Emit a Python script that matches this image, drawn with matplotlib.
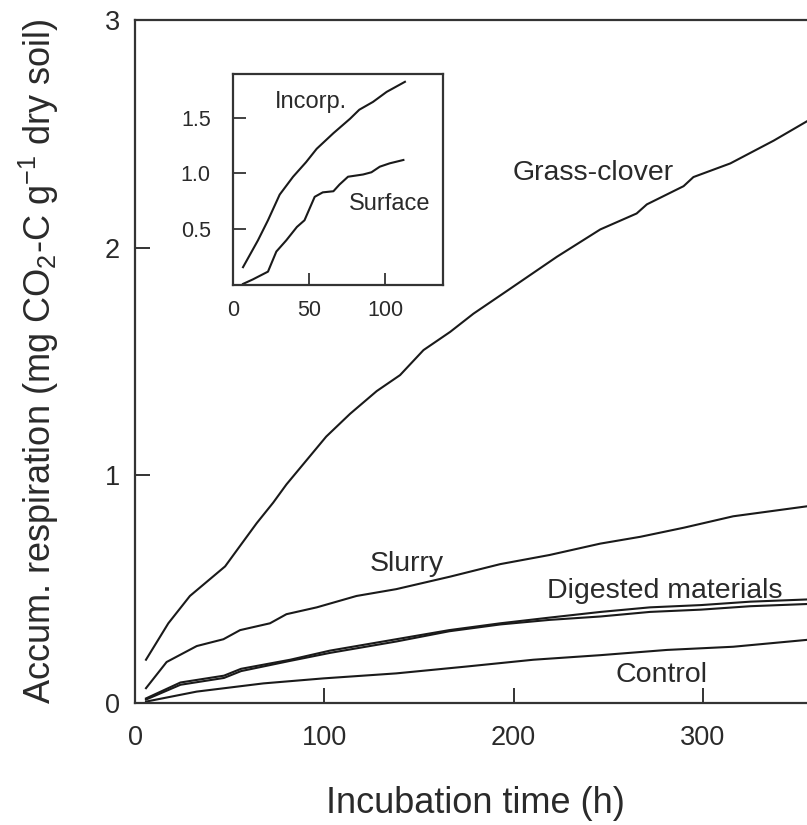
import matplotlib
matplotlib.use("Agg")
import matplotlib.pyplot as plt

plt.rcParams['font.family'] = ['Liberation Sans', 'DejaVu Sans']
plt.rcParams['mathtext.default'] = 'regular'

# --- main panel data ---
grass_t = [5.8, 17.6, 29, 47.6, 55.5, 64.3, 73, 80, 89, 101, 113.6, 127.7, 140,
           152.4, 166.5, 178.8, 196.5, 222.9, 245.8, 265, 270.4, 289.8, 295,
           314.5, 337.4, 356]
grass_v = [0.19, 0.35, 0.47, 0.60, 0.69, 0.79, 0.88, 0.96, 1.05, 1.17, 1.27, 1.37,
           1.44, 1.55, 1.63, 1.71, 1.81, 1.96, 2.08, 2.15, 2.19, 2.27, 2.31, 2.37,
           2.47, 2.56]

slurry_t = [5.8, 16.7, 32.6, 46.7, 55.5, 71.3, 80, 96, 117, 138, 166.5, 193, 219,
            245.8, 267, 290, 316, 356]
slurry_v = [0.065, 0.18, 0.25, 0.28, 0.32, 0.35, 0.39, 0.42, 0.47, 0.50, 0.555,
            0.61, 0.65, 0.70, 0.73, 0.77, 0.82, 0.865]

digest_t = [5.8, 24, 47, 56, 82, 103, 138, 166, 193, 219, 246, 272, 299, 325, 356]
digest_a = [0.02, 0.09, 0.12, 0.15, 0.19, 0.23, 0.28, 0.32, 0.35, 0.375, 0.40,
            0.42, 0.43, 0.445, 0.455]
digest_b = [0.015, 0.08, 0.11, 0.14, 0.185, 0.22, 0.27, 0.315, 0.345, 0.365,
            0.38, 0.40, 0.41, 0.425, 0.435]

control_t = [5.8, 32.6, 67.8, 99.5, 138, 175, 210.5, 245.8, 281, 316, 356]
control_v = [0.006, 0.05, 0.086, 0.108, 0.13, 0.16, 0.19, 0.21, 0.233, 0.247, 0.278]

# --- inset data ---
incorp_t = [6.6, 16.4, 23, 30.7, 39.5, 48, 55, 66, 77, 83, 92, 101, 113]
incorp_v = [0.16, 0.40, 0.58, 0.81, 0.97, 1.10, 1.22, 1.36, 1.49, 1.57, 1.64,
            1.73, 1.82]
surface_t = [6.6, 13, 23, 28.5, 35, 42, 47, 53.7, 59, 66, 70, 75.6, 85.5, 91,
             96.5, 103, 112]
surface_v = [0.01, 0.05, 0.12, 0.30, 0.40, 0.52, 0.58, 0.79, 0.83, 0.84, 0.90,
             0.97, 0.99, 1.01, 1.06, 1.09, 1.12]

main_xticks = [0, 100, 200, 300]
main_yticks = [0, 1, 2, 3]
inset_xticks = [0, 50, 100]
inset_yticks = [0.5, 1.0, 1.5]

ink = '#1a1a1a'
txt = '#2a2a2a'
lw = 1.5

fig = plt.figure(figsize=(8.07, 8.25), dpi=100)
ax = fig.add_axes([0.1673, 0.1479, 0.8327, 0.8279])

ax.plot(grass_t, grass_v, color=ink, lw=lw)
ax.plot(slurry_t, slurry_v, color=ink, lw=lw)
ax.plot(digest_t, digest_a, color=ink, lw=lw)
ax.plot(digest_t, digest_b, color=ink, lw=lw)
ax.plot(control_t, control_v, color=ink, lw=lw)

ax.set_xlim(0, 355)
ax.set_ylim(0, 3)
ax.set_xticks(main_xticks)
ax.set_yticks(main_yticks)
ax.spines['right'].set_visible(False)
for s in ('left', 'top', 'bottom'):
    ax.spines[s].set_linewidth(1.6)
    ax.spines[s].set_color('#333333')
ax.tick_params(direction='in', length=11, width=1.4, color='#333333',
               labelsize=19.5, labelcolor=txt)
ax.tick_params(axis='x', pad=16)
ax.tick_params(axis='y', pad=11)

ax.set_xlabel('Incubation time (h)', fontsize=26, color=txt)
ax.xaxis.set_label_coords(0.507, -0.161)
ax.xaxis.label.set_verticalalignment('baseline')
ax.set_ylabel('Accum. respiration (mg CO$_2$-C g$^{-1}$ dry soil)',
              fontsize=26, color=txt)
ax.yaxis.set_label_coords(-0.143, 0.5)
ax.yaxis.label.set_verticalalignment('center')

lab = dict(fontsize=20.5, color=txt, ha='center', va='center')
ax.text(242, 2.33, 'Grass-clover', **lab)
ax.text(143.6, 0.61, 'Slurry', **lab)
ax.text(280, 0.49, 'Digested materials', **lab)
ax.text(278, 0.123, 'Control', **lab)

# --- inset ---
ins = fig.add_axes([0.2887, 0.6545, 0.2602, 0.2558])
ins.plot(incorp_t, incorp_v, color=ink, lw=lw)
ins.plot(surface_t, surface_v, color=ink, lw=lw)
ins.set_xlim(0, 138)
ins.set_ylim(0, 1.89)
ins.set_xticks(inset_xticks)
ins.set_yticks(inset_yticks)
ins.set_yticklabels(['0.5', '1.0', '1.5'])
for s in ins.spines.values():
    s.set_linewidth(1.6)
    s.set_color('#333333')
ins.tick_params(direction='in', length=9, width=1.3, color='#333333',
                labelsize=15.5, labelcolor=txt)
ins.tick_params(axis='x', pad=11)
ins.tick_params(axis='y', pad=16)

ilab = dict(fontsize=17, color=txt, ha='center', va='center')
ins.text(51.5, 1.64, 'Incorp.', **ilab)
ins.text(103, 0.73, 'Surface', **ilab)

fig.savefig('out.png', dpi=100, facecolor='white')
